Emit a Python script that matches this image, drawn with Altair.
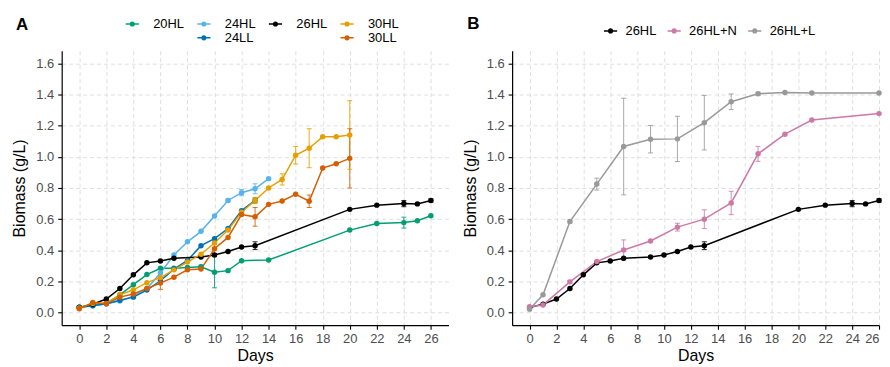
import altair as alt
import pandas as pd

# ---------------- Panel A data ----------------
a_series = ["20HL", "24HL", "24LL", "26HL", "30HL", "30LL"]
a_colors = ["#009E73", "#56B4E9", "#0072B2", "#000000", "#E69F00", "#D55E00"]

d_20HL = [0, 1, 2, 3, 4, 5, 6, 7, 8, 9, 10, 11, 12, 14, 20, 22, 24, 25, 26]
v_20HL = [0.035, 0.05, 0.06, 0.115, 0.18, 0.245, 0.285, 0.285, 0.29, 0.295, 0.26, 0.27, 0.334, 0.338, 0.53, 0.572, 0.578, 0.59, 0.622]
e_20HL = [0, 0, 0, 0, 0, 0, 0, 0, 0, 0.01, 0.1, 0, 0, 0, 0, 0, 0.035, 0, 0]

d_24HL = [0, 1, 2, 3, 4, 5, 6, 7, 8, 9, 10, 11, 12, 13, 14]
v_24HL = [0.035, 0.045, 0.057, 0.075, 0.105, 0.155, 0.255, 0.37, 0.455, 0.522, 0.62, 0.72, 0.77, 0.795, 0.86]
e_24HL = [0, 0, 0, 0, 0, 0, 0, 0, 0, 0, 0, 0.01, 0.02, 0.032, 0]

d_24LL = [0, 1, 2, 3, 4, 5, 6, 7, 8, 9, 10, 11, 12, 13]
v_24LL = [0.035, 0.045, 0.057, 0.08, 0.10, 0.145, 0.205, 0.28, 0.335, 0.43, 0.475, 0.54, 0.655, 0.72]
e_24LL = [0, 0, 0, 0, 0, 0, 0, 0, 0, 0, 0, 0, 0, 0.015]

d_26HL = [0, 1, 2, 3, 4, 5, 6, 7, 9, 10, 11, 12, 13, 20, 22, 24, 25, 26]
v_26HL = [0.033, 0.055, 0.088, 0.155, 0.243, 0.32, 0.332, 0.35, 0.357, 0.37, 0.393, 0.422, 0.43, 0.663, 0.69, 0.70, 0.698, 0.72]
e_26HL = [0, 0, 0, 0, 0, 0, 0, 0, 0, 0, 0, 0, 0.025, 0, 0, 0.02, 0, 0.01]

d_30HL = list(range(0, 21))
v_30HL = [0.03, 0.06, 0.06, 0.115, 0.147, 0.193, 0.225, 0.275, 0.325, 0.375, 0.447, 0.53, 0.645, 0.72, 0.80, 0.855, 1.01, 1.055, 1.128, 1.128, 1.14]
e_30HL = [0, 0, 0, 0, 0, 0, 0.03, 0, 0, 0, 0, 0, 0, 0.02, 0, 0.036, 0.056, 0.125, 0, 0, 0.22]

d_30LL = list(range(0, 21))
v_30LL = [0.025, 0.065, 0.057, 0.10, 0.12, 0.155, 0.19, 0.228, 0.275, 0.28, 0.41, 0.483, 0.63, 0.615, 0.695, 0.717, 0.76, 0.715, 0.928, 0.955, 0.99]
e_30LL = [0, 0, 0, 0, 0, 0, 0.04, 0, 0, 0, 0.03, 0, 0, 0.06, 0, 0, 0, 0.04, 0, 0, 0.19]

# ---------------- Panel B data ----------------
b_series = ["26HL", "26HL+N", "26HL+L"]
b_colors = ["#000000", "#CC79A7", "#999999"]

d_N = [0, 1, 3, 5, 7, 9, 11, 13, 15, 17, 19, 21, 26]
v_N = [0.038, 0.05, 0.198, 0.328, 0.402, 0.46, 0.549, 0.60, 0.704, 1.019, 1.145, 1.236, 1.277]
e_N = [0, 0, 0.01, 0, 0.065, 0, 0.025, 0.06, 0.075, 0.048, 0, 0, 0]

d_L = [0, 1, 3, 5, 7, 9, 11, 13, 15, 17, 19, 21, 26]
v_L = [0.023, 0.115, 0.585, 0.825, 1.066, 1.113, 1.115, 1.219, 1.353, 1.404, 1.413, 1.409, 1.409]
e_L = [0, 0, 0.01, 0.038, 0.31, 0.088, 0.145, 0.175, 0.05, 0.01, 0, 0, 0]

x_ticks = list(range(0, 27, 2))
y_ticks = [0, 0.2, 0.4, 0.6, 0.8, 1.0, 1.2, 1.4, 1.6]


def frame(groups):
    rows = []
    for k, (name, d, v, e) in enumerate(groups):
        for di, vi, ei in zip(d, v, e):
            rows.append({"series": name, "day": di, "value": vi, "err": ei, "k": k})
    return pd.DataFrame(rows)


df_a = frame([
    ("20HL", d_20HL, v_20HL, e_20HL),
    ("24HL", d_24HL, v_24HL, e_24HL),
    ("24LL", d_24LL, v_24LL, e_24LL),
    ("26HL", d_26HL, v_26HL, e_26HL),
    ("30HL", d_30HL, v_30HL, e_30HL),
    ("30LL", d_30LL, v_30LL, e_30LL),
])
df_b = frame([
    ("26HL", d_26HL, v_26HL, e_26HL),
    ("26HL+N", d_N, v_N, e_N),
    ("26HL+L", d_L, v_L, e_L),
])

# legend key: short line with a dot (drawn by stroke)
SYM = ("M-1.1,0L1.1,0 "
       "M0.3,0A0.3,0.3 0 1,1 -0.3,0A0.3,0.3 0 1,1 0.3,0 "
       "M0.15,0A0.15,0.15 0 1,1 -0.15,0A0.15,0.15 0 1,1 0.15,0")

H = 276


def panel(df, dom, rng, letter, xmax, width, legend_opts, flush):
    xax = alt.Axis(values=x_ticks, title="Days", titlePadding=3,
                   labelOverlap=False, labelFlush=flush, tickCount=14)
    yax = alt.Axis(values=y_ticks, format=".1f", title="Biomass (g/L)",
                   titlePadding=8, labelPadding=4, labelOverlap=False, tickCount=9)
    xs = alt.Scale(domain=[-1.3, xmax], nice=False, zero=False)
    ys = alt.Scale(domain=[-0.08, 1.68], nice=False, zero=False)
    cs = alt.Scale(domain=dom, range=rng)
    leg = alt.Legend(
        orient="none", title=letter, titleOrient="left", titleFontSize=17,
        titleFontWeight="bold", titleColor="black", titleFont="Liberation Sans",
        titleAnchor="start",
        symbolType=SYM, symbolSize=144, symbolStrokeWidth=1.5, symbolOpacity=1,
        labelFontSize=13, labelFont="Liberation Sans", labelColor="black",
        direction="horizontal", **legend_opts)
    col = alt.Color("series:N", scale=cs, legend=leg)
    X = alt.X("day:Q", scale=xs, axis=xax)

    def Y(f):
        return alt.Y(f, scale=ys, axis=yax)

    base = alt.Chart(df)
    line = base.mark_line(strokeWidth=1.5).encode(x=X, y=Y("value:Q"), color=col)
    eb = base.transform_filter("datum.err > 0").transform_calculate(
        lo="datum.value - datum.err", hi="datum.value + datum.err")
    rule = eb.mark_rule(strokeWidth=1, opacity=0.85).encode(
        x=X, y=Y("lo:Q"), y2="hi:Q", color=col)
    cap_lo = eb.mark_tick(orient="horizontal", size=5, thickness=1, opacity=0.85).encode(
        x=X, y=Y("lo:Q"), color=col)
    cap_hi = eb.mark_tick(orient="horizontal", size=5, thickness=1, opacity=0.85).encode(
        x=X, y=Y("hi:Q"), color=col)
    pts = base.mark_circle(size=30, opacity=1).encode(x=X, y=Y("value:Q"), color=col)
    return alt.layer(line, rule, cap_lo, cap_hi, pts).properties(width=width, height=H)


dom_a = ["20HL", "24HL", "26HL", "30HL", " ", "24LL", "  ", "30LL"]
rng_a = ["#009E73", "#56B4E9", "#000000", "#E69F00", "rgba(0,0,0,0)", "#0072B2", "rgba(0,0,0,0)", "#D55E00"]

pa = panel(df_a, dom_a, rng_a, "A", 27.3, 389, dict(
    legendX=-46, legendY=-34, columns=4, titlePadding=97, titleBaseline="top",
    labelOffset=14, columnPadding=9, rowPadding=-5), False)
pb = panel(df_b, b_series, b_colors, "B", 26.0, 369, dict(
    legendX=-45, legendY=-27, columns=3, titlePadding=124, titleBaseline="middle",
    labelOffset=8, columnPadding=7), 1)

chart = alt.hconcat(pa, pb, spacing=13).resolve_scale(color="independent").properties(
    padding={"left": 3, "top": 8, "right": 0, "bottom": 0}
).configure_view(stroke=None).configure_axis(
    domainColor="black", domainWidth=1.2, tickColor="black", tickWidth=1.1, tickSize=4,
    labelColor="#4D4D4D", labelFontSize=13, labelFont="Liberation Sans",
    titleFont="Liberation Sans", titleFontSize=16, titleFontWeight="normal", titleColor="black",
    gridColor="#d6d6d6", gridDash=[4, 3], gridWidth=0.8, labelPadding=3, labelOverlap=False
)

chart.save("out.html", embed_options={"renderer": "svg", "actions": False})
